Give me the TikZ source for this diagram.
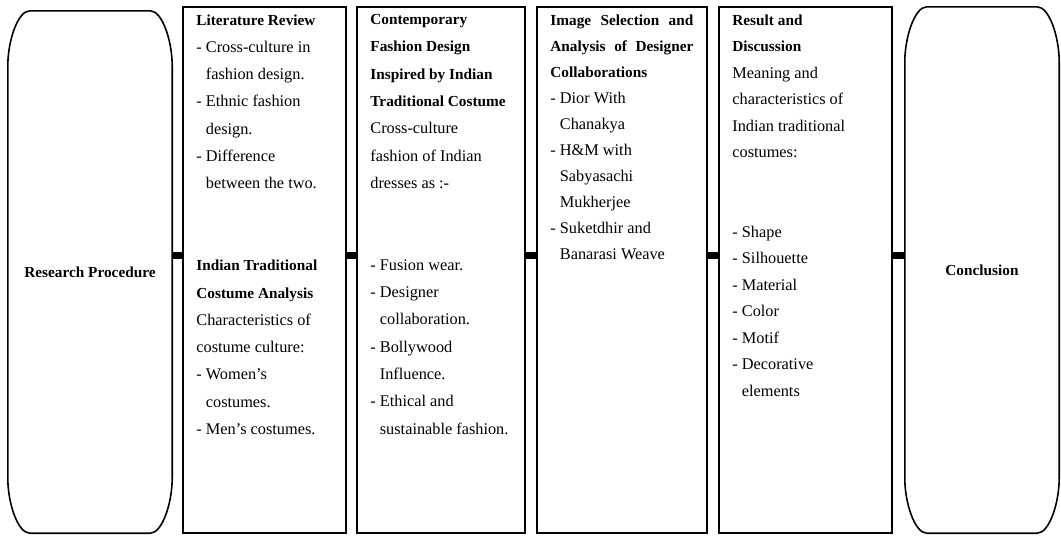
\documentclass[tikz,border=0pt]{standalone}
\usepackage{fontspec}
\setmainfont{Liberation Serif}
\newcommand\rgfont{\fontsize{16.3}{27.3}\selectfont}
\newcommand\hd[1]{{\fontsize{15.3}{27.3}\selectfont\bfseries #1}}
\newcommand\ind{\hphantom{-}\ }
\newcommand\termoutline[1]{%
  \draw[termline] ([yshift=-55pt]#1.north west)
    .. controls ([yshift=-30pt]#1.north west) and ([xshift=10pt]#1.north west) .. ([xshift=22pt]#1.north west)
    -- ([xshift=-22pt]#1.north east)
    .. controls ([xshift=-10pt]#1.north east) and ([yshift=-30pt]#1.north east) .. ([yshift=-55pt]#1.north east)
    -- ([yshift=55pt]#1.south east)
    .. controls ([yshift=30pt]#1.south east) and ([xshift=-10pt]#1.south east) .. ([xshift=-22pt]#1.south east)
    -- ([xshift=22pt]#1.south west)
    .. controls ([xshift=10pt]#1.south west) and ([yshift=30pt]#1.south west) .. ([yshift=55pt]#1.south west)
    -- cycle;}
\begin{document}
\begin{tikzpicture}[x=1pt,y=-1pt,
  stagebox/.style={draw, line width=1.6pt, rectangle, minimum width=#1, minimum height=526, inner sep=0pt},
  termnode/.style={rectangle, minimum width=#1, inner sep=0pt, font=\fontsize{15.3}{18}\selectfont\bfseries},
  termline/.style={line width=1.6pt},
  boxtext/.style={anchor=north west, align=left, inner sep=0pt, font=\rgfont},
  link/.style={line width=7pt}]
\useasboundingbox (0,0) rectangle (1061,536);
\fill[white] (0,0) rectangle (1061,536);
\coordinate (lv) at (0,255);
% terminals
\node[termnode=164, minimum height=522] (rp) at (90,272) {Research Procedure};
\node[termnode=154, minimum height=526] (cc) at (982,270) {Conclusion};
\termoutline{rp}
\termoutline{cc}
% stage boxes
\node[stagebox=163] (b1) at (264.5,270) {};
\node[stagebox=168] (b2) at (441,270) {};
\node[stagebox=170] (b3) at (622,270) {};
\node[stagebox=173] (b4) at (805.5,270) {};
% connectors
\draw[link] (rp.east |- lv) -- (b1.west |- lv);
\draw[link] (b1.east |- lv) -- (b2.west |- lv);
\draw[link] (b2.east |- lv) -- (b3.west |- lv);
\draw[link] (b3.east |- lv) -- (b4.west |- lv);
\draw[link] (b4.east |- lv) -- (cc.west |- lv);
% texts
\node[boxtext] (t1) at ([xshift=14pt,yshift=-8pt]b1.north west) {%
\hd{Literature Review}\\
- Cross-culture in\\
\ind fashion design.\\
- Ethnic fashion\\
\ind design.\\
- Difference\\
\ind between the two.\\
\mbox{}\\
\mbox{}\\
\hd{Indian Traditional}\\
\hd{Costume Analysis}\\
Characteristics of\\
costume culture:\\
- Women’s\\
\ind costumes.\\
- Men’s costumes.};
\node[boxtext] (t2) at ([xshift=14pt,yshift=-8pt]b2.north west) {%
\hd{Contemporary}\\
\hd{Fashion Design}\\
\hd{Inspired by Indian}\\
\hd{Traditional Costume}\\
Cross-culture\\
fashion of Indian\\
dresses as :-\\
\mbox{}\\
\mbox{}\\
- Fusion wear.\\
- Designer\\
\ind collaboration.\\
- Bollywood\\
\ind Influence.\\
- Ethical and\\
\ind sustainable fashion.};
\node[boxtext, font=\fontsize{16.3}{26}\selectfont] (t3) at ([xshift=14pt,yshift=-8pt]b3.north west) {%
\hd{\makebox[143pt][s]{Image Selection and}}\\
\hd{\makebox[143pt][s]{Analysis of Designer}}\\
\hd{Collaborations}\\
- Dior With\\
\ind Chanakya\\
- H\&M with\\
\ind Sabyasachi\\
\ind Mukherjee\\
- Suketdhir and\\
\ind Banarasi Weave};
\node[boxtext, font=\fontsize{16.3}{26.5}\selectfont] (t4) at ([xshift=14pt,yshift=-8pt]b4.north west) {%
\hd{Result and}\\
\hd{Discussion}\\
Meaning and\\
characteristics of\\
Indian traditional\\
costumes:\\
\mbox{}\\
\mbox{}\\
- Shape\\
- Silhouette\\
- Material\\
- Color\\
- Motif\\
- Decorative\\
\ind elements};
\end{tikzpicture}
\end{document}
